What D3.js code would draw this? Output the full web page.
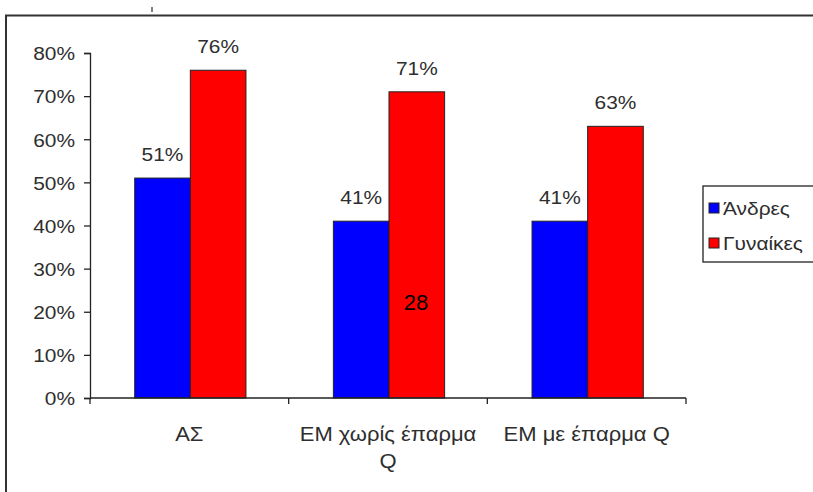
<!DOCTYPE html>
<html>
<head>
<meta charset="utf-8">
<script src="https://cdn.jsdelivr.net/npm/d3@7"></script>
<style>
  html, body { margin: 0; padding: 0; background: #fff; }
  svg { display: block; }
  text { font-family: "Liberation Sans", Arial, sans-serif; }
</style>
</head>
<body>
<svg id="chart" width="813" height="492"></svg>
<script>
// Categories (lines of each label), series and values
const categories = ["ΑΣ", "ΕΜ χωρίς έπαρμα Q", "ΕΜ με έπαρμα Q"];
const categoryLines = [["ΑΣ"], ["ΕΜ χωρίς έπαρμα", "Q"], ["ΕΜ με έπαρμα Q"]];
const seriesNames = ["Άνδρες", "Γυναίκες"];
const seriesColors = ["#0000ff", "#ff0000"];
const men = [51, 41, 41];
const women = [76, 71, 63];
const yTicks = [0, 10, 20, 30, 40, 50, 60, 70, 80];
const pageNumber = "28";

const svg = d3.select("#chart");
const W = 813, H = 492;
const plot = { left: 90, right: 686, top: 53, bottom: 398 };
const textColor = "#2e2e2e";
const stretch = 1.1;   // slightly widened lettering

// place a text node at (x, y) with horizontal stretch
function placeText(sel, x, y) {
  return sel.attr("x", 0).attr("y", 0)
    .attr("transform", `translate(${x},${y}) scale(${stretch},1)`);
}

// Outer frame of the chart area
svg.append("path")
  .attr("d", `M6,${H + 2} L6,15.5 L${W + 2},15.5`)
  .attr("fill", "none").attr("stroke", "#333").attr("stroke-width", 2);

// small stray mark above the frame
svg.append("line")
  .attr("x1", 152).attr("x2", 152).attr("y1", 7).attr("y2", 12)
  .attr("stroke", "#555").attr("stroke-width", 1.5);

const x0 = d3.scaleBand().domain(categories).range([plot.left, plot.right]).padding(0);
const x1 = d3.scaleBand().domain(seriesNames)
  .range([x0.bandwidth() * 0.225, x0.bandwidth() * 0.785]).padding(0);
const y = d3.scaleLinear().domain([0, 80]).range([plot.bottom, plot.top]);

const values = seriesNames.map((s, i) => i === 0 ? men : women);

// Bars with value labels
const groups = svg.append("g").selectAll("g")
  .data(categories).join("g")
  .attr("transform", c => `translate(${x0(c)},0)`);

groups.each(function (c, ci) {
  const g = d3.select(this);
  seriesNames.forEach((s, si) => {
    const v = values[si][ci];
    g.append("rect")
      .attr("x", x1(s)).attr("width", x1.bandwidth())
      .attr("y", y(v)).attr("height", y(0) - y(v))
      .attr("fill", seriesColors[si])
      .attr("stroke", "#222").attr("stroke-width", 1);
    placeText(g.append("text"), x1(s) + x1.bandwidth() / 2, y(v) - 17)
      .attr("text-anchor", "middle")
      .attr("font-size", 19).attr("fill", textColor)
      .text(v + "%");
  });
});

// Y axis
const yAxis = d3.axisLeft(y).tickValues(yTicks).tickFormat(d => d + "%")
  .tickSizeOuter(0).tickSize(6).tickPadding(9);
const gy = svg.append("g").attr("transform", `translate(${plot.left},0)`).call(yAxis);
gy.select(".domain").attr("stroke", "#222").attr("stroke-width", 1.3);
gy.selectAll(".tick line").attr("stroke", "#222").attr("stroke-width", 1.3);
gy.selectAll(".tick text")
  .attr("font-size", 19).attr("fill", textColor)
  .attr("font-family", "Liberation Sans, Arial, sans-serif")
  .attr("x", -15 / stretch).attr("dy", "0.36em")
  .attr("transform", `scale(${stretch},1)`);

// X axis with ticks between categories
const xTickPos = [plot.left].concat(categories.map(c => x0(c) + x0.bandwidth()));
svg.append("line")
  .attr("x1", plot.left).attr("x2", plot.right)
  .attr("y1", plot.bottom).attr("y2", plot.bottom)
  .attr("stroke", "#222").attr("stroke-width", 1.3);
svg.append("g").selectAll("line").data(xTickPos).join("line")
  .attr("x1", d => d).attr("x2", d => d)
  .attr("y1", plot.bottom).attr("y2", plot.bottom + 6)
  .attr("stroke", "#222").attr("stroke-width", 1.3);

const catG = svg.append("g");
categories.forEach((c, i) => {
  categoryLines[i].forEach((line, li) => {
    placeText(catG.append("text"), x0(c) + x0.bandwidth() / 2, 441 + li * 27)
      .attr("text-anchor", "middle")
      .attr("font-size", 20).attr("fill", textColor)
      .text(line);
  });
});

// Legend
const legend = svg.append("g").attr("transform", "translate(703,186)");
legend.append("rect").attr("x", 0).attr("y", 0).attr("width", 130).attr("height", 76)
  .attr("fill", "#fff").attr("stroke", "#222").attr("stroke-width", 1.3);
seriesNames.forEach((s, i) => {
  const ly = 22 + i * 35;
  legend.append("rect").attr("x", 6).attr("y", ly - 5).attr("width", 10).attr("height", 10)
    .attr("fill", seriesColors[i]).attr("stroke", "#222").attr("stroke-width", 1);
  placeText(legend.append("text"), 20, ly + 7)
    .attr("font-size", 19).attr("fill", textColor).text(s);
});

// Page number overlay
svg.append("text")
  .attr("x", 416).attr("y", 310)
  .attr("text-anchor", "middle")
  .attr("font-family", "Carlito, Calibri, 'Liberation Sans', sans-serif")
  .attr("font-size", 22).attr("fill", "#000")
  .text(pageNumber);
</script>
</body>
</html>
